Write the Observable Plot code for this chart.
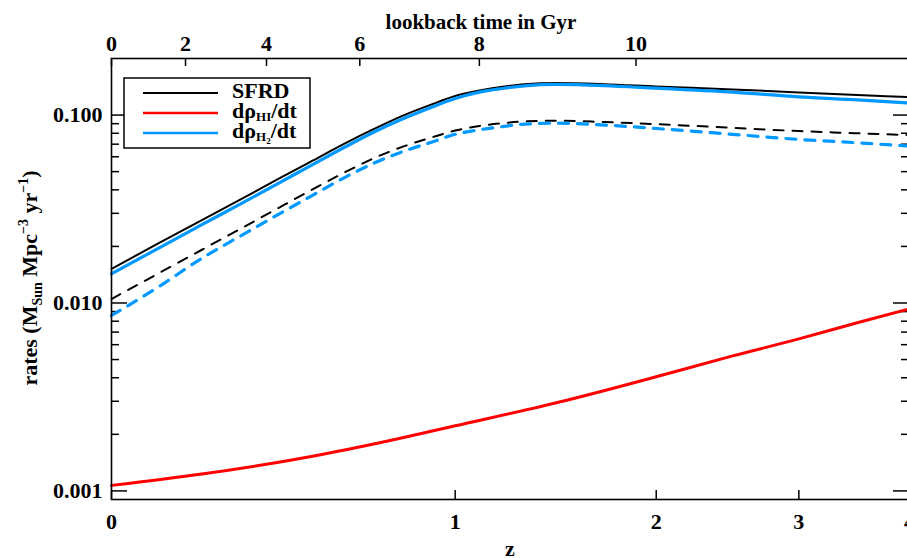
<!DOCTYPE html>
<html><head><meta charset="utf-8">
<script src="https://cdn.jsdelivr.net/npm/d3@7"></script>
<script src="https://cdn.jsdelivr.net/npm/@observablehq/plot@0.6"></script>
<style>html,body{margin:0;padding:0;background:#fff;overflow:hidden}</style>
</head><body><div id="chart"></div>
<script>
// ---- data ----
const zGrid = [0, 0.1, 0.2, 0.3, 0.4, 0.5, 0.6, 0.7, 0.8, 0.9, 1.0, 1.1, 1.2, 1.3, 1.45, 1.7, 2.0, 2.5, 3.0, 3.5, 4.0];
const sfrdSolid   = [0.0152, 0.0208, 0.0276, 0.0358, 0.0457, 0.0572, 0.0705, 0.0846, 0.0993, 0.1129, 0.1263, 0.135, 0.1415, 0.146, 0.148, 0.146, 0.142, 0.137, 0.132, 0.128, 0.1245];
const h2Solid     = [0.0143, 0.0196, 0.0261, 0.0339, 0.0433, 0.0545, 0.0674, 0.0815, 0.0955, 0.109, 0.1225, 0.1325, 0.1385, 0.143, 0.1455, 0.1435, 0.139, 0.1325, 0.125, 0.1205, 0.116];
const sfrdDashed  = [0.0105, 0.0144, 0.0192, 0.0250, 0.0320, 0.0402, 0.0495, 0.0592, 0.0679, 0.0755, 0.0827, 0.0875, 0.0905, 0.0925, 0.0933, 0.0918, 0.0895, 0.0855, 0.0822, 0.0800, 0.0782];
const h2Dashed    = [0.00858, 0.0122, 0.0173, 0.0229, 0.0296, 0.0374, 0.0465, 0.0557, 0.064, 0.0712, 0.079, 0.0835, 0.0868, 0.0895, 0.0905, 0.0885, 0.0848, 0.079, 0.0742, 0.0712, 0.0684];
const hiZ         = [0, 0.2, 0.5, 0.75, 1.0, 1.5, 2.0, 2.5, 3.0, 3.5, 4.0];
const hiSolid     = [0.00107, 0.00123, 0.00153, 0.00185, 0.00222, 0.00303, 0.00405, 0.00523, 0.00644, 0.00785, 0.0093];

const zTicks = [0, 1, 2, 3, 4];
const lookbackLabels = ["0", "2", "4", "6", "8", "10"];
const lookbackZ = [0, 0.161, 0.367, 0.65, 1.10, 1.88];
const yMajor = [0.001, 0.01, 0.1];
const yMinor = [0.002,0.003,0.004,0.005,0.006,0.007,0.008,0.009,0.02,0.03,0.04,0.05,0.06,0.07,0.08,0.09];
const legendNames = ["SFRD", "HI", "H2"];
const legendColors = ["#000000", "#ff0000", "#0099ff"];

// ---- layout ----
const W = 907, H = 558, mL = 111, mT = 58, mB = 59, mR = -2;
const innerW = W - mL - mR, innerH = H - mT - mB;

const toRows = (zs, vs) => zs.map((zz, i) => ({z: zz, v: vs[i]}));
const lbMap = new Map(lookbackZ.map((t, i) => [1 + t, lookbackLabels[i]]));
const fontFam = "'Liberation Serif', 'Times New Roman', serif";

const lineOpts = (stroke, sw, dash) => ({x: d => 1 + d.z, y: "v", stroke, strokeWidth: sw, strokeDasharray: dash, curve: "monotone-x"});

const plot = Plot.plot({
  width: W, height: H,
  marginLeft: mL, marginRight: mR, marginTop: mT, marginBottom: mB,
  style: {fontFamily: fontFam, fontSize: "22px", fontWeight: "bold", color: "#000", background: "#fff"},
  x: {type: "log", domain: [1, 5]},
  y: {type: "log", domain: [0.0009, 0.2]},
  marks: [
    Plot.axisX({anchor: "bottom", ticks: zTicks.map(t => 1 + t), tickFormat: d => String(Math.round(d - 1)), tickSize: 0, tickPadding: 14, label: null, fontSize: 22}),
    Plot.axisX({anchor: "top", ticks: lookbackZ.map(t => 1 + t), tickFormat: d => lbMap.get(d), tickSize: 0, tickPadding: 8, label: null, fontSize: 22}),
    Plot.axisY({anchor: "left", ticks: yMajor, tickFormat: d3.format(".3f"), tickSize: 0, tickPadding: 9, label: null, fontSize: 22}),
    Plot.tickX(zTicks, {x: d => 1 + d, insetTop: innerH - 9, strokeWidth: 1.5}),
    Plot.tickX(lookbackZ, {x: d => 1 + d, insetBottom: innerH - 8, strokeWidth: 1.5}),
    Plot.tickY(yMajor, {y: d => d, insetRight: innerW - 16, strokeWidth: 1.5}),
    Plot.tickY(yMinor, {y: d => d, insetRight: innerW - 8, strokeWidth: 1.5}),
    Plot.tickY(yMajor, {y: d => d, insetLeft: innerW - 16, strokeWidth: 1.5}),
    Plot.tickY(yMinor, {y: d => d, insetLeft: innerW - 8, strokeWidth: 1.5}),
    Plot.line(toRows(zGrid, sfrdDashed), lineOpts("#000000", 2, "10,9")),
    Plot.line(toRows(zGrid, h2Dashed), lineOpts("#0099ff", 3.2, "10,9")),
    Plot.line(toRows(hiZ, hiSolid), lineOpts("#ff0000", 3)),
    Plot.line(toRows(zGrid, sfrdSolid), lineOpts("#000000", 2)),
    Plot.line(toRows(zGrid, h2Solid), lineOpts("#0099ff", 3.2)),
    Plot.frame({strokeWidth: 1.6})
  ]
});
document.getElementById("chart").appendChild(plot);

// ---- texts and legend ----
const svg = d3.select(plot);
const txt = (x, y, size) => svg.append("text").attr("x", x).attr("y", y)
  .attr("font-family", fontFam).attr("font-weight", "bold").attr("font-size", size).attr("fill", "#000");

txt(481, 29, 21).attr("text-anchor", "middle").text("lookback time in Gyr");
txt(510, 556, 22).attr("text-anchor", "middle").text("z");

const yl = svg.append("text").attr("transform", "translate(37,278) rotate(-90)")
  .attr("text-anchor", "middle").attr("font-family", fontFam).attr("font-weight", "bold").attr("font-size", 22).attr("fill", "#000");
yl.append("tspan").text("rates (M");
yl.append("tspan").attr("font-size", 14).attr("dy", 5).text("Sun");
yl.append("tspan").attr("dy", -5).text(" Mpc");
yl.append("tspan").attr("font-size", 14).attr("dy", -9).text("\u22123");
yl.append("tspan").attr("dy", 9).text(" yr");
yl.append("tspan").attr("font-size", 14).attr("dy", -9).text("\u22121");
yl.append("tspan").attr("dy", 9).text(")");

const lg = svg.append("g");
lg.append("rect").attr("x", 124).attr("y", 78).attr("width", 186).attr("height", 70)
  .attr("fill", "#fff").attr("stroke", "#000").attr("stroke-width", 1.5);
legendNames.forEach((name, i) => {
  const ly = 93 + 20 * i;
  lg.append("line").attr("x1", 143).attr("x2", 218).attr("y1", ly).attr("y2", ly)
    .attr("stroke", legendColors[i]).attr("stroke-width", i === 0 ? 2 : 2.5);
  const t = lg.append("text").attr("x", 232).attr("y", ly + 5).attr("text-anchor", "start")
    .attr("font-family", fontFam).attr("font-weight", "bold").attr("font-size", 22).attr("fill", "#000");
  if (name === "SFRD") {
    t.text("SFRD");
  } else if (name === "HI") {
    t.append("tspan").text("d\u03c1");
    t.append("tspan").attr("font-size", 13).attr("dy", 3).text("HI");
    t.append("tspan").attr("dy", -3).text("/dt");
  } else {
    t.append("tspan").text("d\u03c1");
    t.append("tspan").attr("font-size", 13).attr("dy", 3).text("H");
    t.append("tspan").attr("font-size", 9).attr("dy", 3).text("2");
    t.append("tspan").attr("dy", -6).text("/dt");
  }
});
</script></body></html>
